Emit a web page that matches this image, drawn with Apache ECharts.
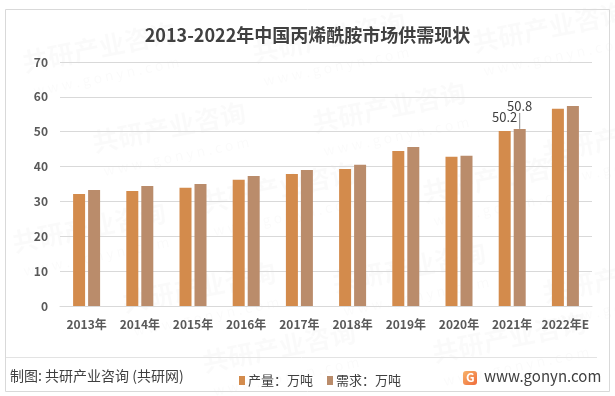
<!DOCTYPE html>
<html>
<head>
<meta charset="utf-8">
<script src="https://cdn.jsdelivr.net/npm/echarts@6/dist/echarts.min.js"></script>
<style>
  html, body { margin: 0; padding: 0; background: #fff; }
  #charts { width: 615px; height: 396px; }
</style>
</head>
<body>
<div id="charts"></div>
<script>
var years = ['2013年', '2014年', '2015年', '2016年', '2017年', '2018年', '2019年', '2020年', '2021年', '2022年E'];
var output = [32.1, 33.0, 33.9, 36.2, 37.9, 39.3, 44.5, 42.8, 50.2, 56.6];
var demand = [33.3, 34.4, 35.0, 37.3, 39.0, 40.5, 45.6, 43.1, 50.8, 57.4];
var labelled = '2021年';

var font = '"Microsoft YaHei", "Noto Sans CJK SC", sans-serif';

// only 2021 carries value labels in the original
function withLabels(values) {
  return values.map(function (v, i) {
    if (years[i] !== labelled) return v;
    return { value: v, label: { show: true } };
  });
}

// faint watermark texts
var marks = [];
[[20, 50], [250, 40], [470, 30], [90, 130], [310, 110], [540, 140], [10, 230], [200, 190], [420, 180],
 [120, 290], [330, 270], [540, 280], [200, 350], [430, 340]].forEach(function (p) {
  marks.push({
    type: 'text', x: p[0], y: p[1], rotation: 0.2, silent: true, z: -1,
    style: { text: '共研产业咨询', font: 'bold 26px ' + font, fill: 'rgba(0,0,0,0.02)' }
  });
  marks.push({
    type: 'text', x: p[0] + 12, y: p[1] + 34, rotation: 0.2, silent: true, z: -1,
    style: { text: 'w w w . g o n y n . c o m', font: '14px ' + font, fill: 'rgba(0,0,0,0.02)' }
  });
});

var option = {
  backgroundColor: '#fff',
  animation: false,
  title: {
    text: '2013-2022年中国丙烯酰胺市场供需现状',
    left: 'center',
    top: 21,
    textStyle: { fontFamily: font, fontSize: 18, fontWeight: 'bold', color: '#404040' }
  },
  legend: {
    left: 234,
    top: 369,
    itemWidth: 6,
    itemHeight: 9,
    itemGap: 14,
    icon: 'rect',
    textStyle: { fontFamily: font, fontSize: 13, color: '#404040', padding: [0, 0, 0, -2] },
    data: ['产量：万吨', '需求：万吨']
  },
  grid: { left: 60, right: 23, top: 62, bottom: 90 },
  xAxis: {
    type: 'category',
    data: years,
    axisLine: { lineStyle: { color: '#d9d9d9' } },
    axisTick: { show: false },
    axisLabel: { interval: 0, fontFamily: font, fontSize: 12, fontWeight: 'bold', color: '#595959', margin: 12 }
  },
  yAxis: {
    type: 'value',
    min: 0,
    max: 70,
    interval: 10,
    axisLine: { show: false },
    axisTick: { show: false },
    axisLabel: { fontFamily: font, fontSize: 12, fontWeight: 'bold', color: '#595959', margin: 12 },
    splitLine: { lineStyle: { color: '#d9d9d9' } }
  },
  series: [
    {
      name: '产量：万吨',
      type: 'bar',
      barWidth: 12,
      barGap: '25%',
      itemStyle: { color: '#D38B4C' },
      label: { show: false, position: 'top', distance: 7, fontFamily: font, fontSize: 13, color: '#404040' },
      data: withLabels(output)
    },
    {
      name: '需求：万吨',
      type: 'bar',
      barWidth: 12,
      itemStyle: { color: '#BA8C6B' },
      label: { show: false, position: 'top', distance: 2, fontFamily: font, fontSize: 13, color: '#404040' },
      labelLine: { show: true, lineStyle: { color: '#8c8c8c', width: 1 } },
      labelLayout: function (params) {
        return { dy: -14 };
      },
      data: withLabels(demand)
    }
  ],
  graphic: marks.concat([
    {
      type: 'rect', silent: true,
      shape: { x: 5.5, y: 9.5, width: 604, height: 382 },
      style: { fill: null, stroke: '#d9d9d9', lineWidth: 1 }
    },
    {
      type: 'line', silent: true,
      shape: { x1: 6, y1: 357.5, x2: 597, y2: 357.5 },
      style: { stroke: '#e3e3e3', lineWidth: 1 }
    },
    {
      type: 'text', left: 10, top: 369,
      style: { text: '制图: 共研产业咨询 (共研网)', font: '14px ' + font, fill: '#404040' }
    },
    {
      type: 'rect', silent: true,
      shape: { x: 463, y: 371, width: 14, height: 14, r: 3 },
      style: {
        fill: new echarts.graphic.LinearGradient(0, 0, 1, 1, [
          { offset: 0, color: '#f7b36a' }, { offset: 1, color: '#ef6b3a' }
        ])
      }
    },
    {
      type: 'text', left: 466, top: 371,
      style: { text: 'G', font: 'bold 12px ' + font, fill: '#fff' }
    },
    {
      type: 'text', left: 484, top: 369,
      style: { text: 'www.gonyn.com', font: '15px ' + font, fill: '#404040' }
    }
  ])
};

var myChart = echarts.init(document.getElementById('charts'));
myChart.setOption(option);
</script>
</body>
</html>
